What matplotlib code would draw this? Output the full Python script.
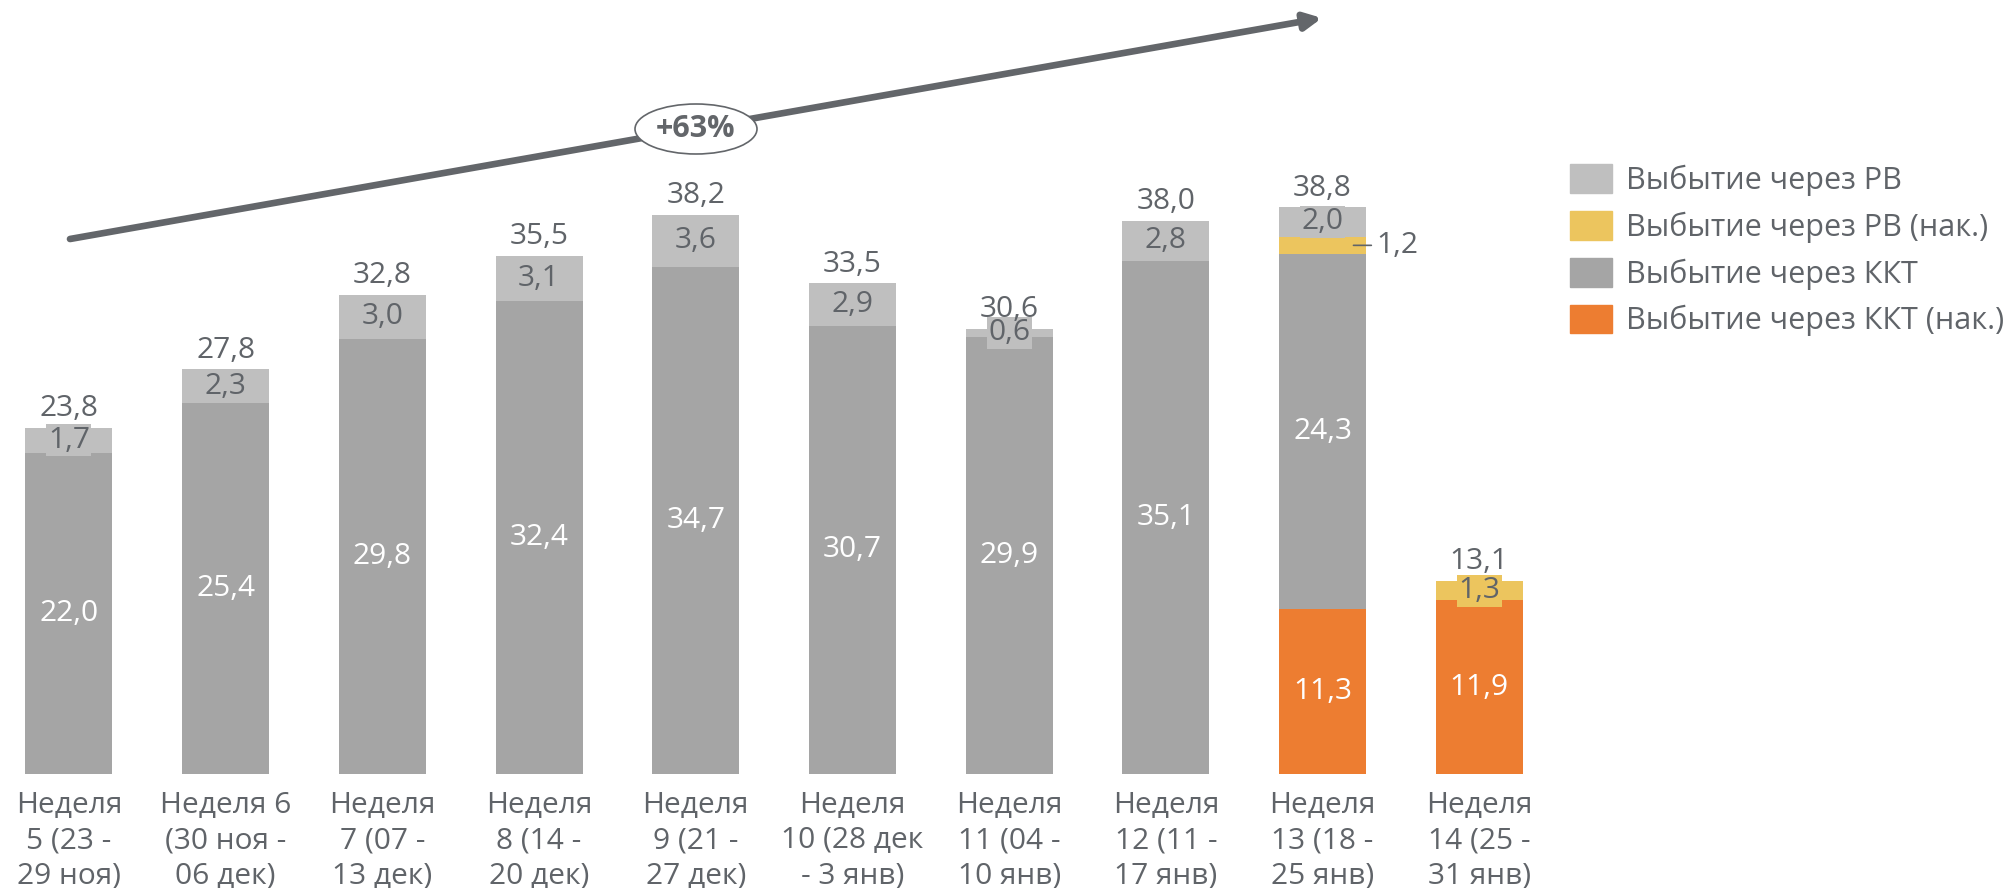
import matplotlib
matplotlib.use("Agg")
import matplotlib.pyplot as plt
from matplotlib.patches import Ellipse, Patch, FancyArrowPatch
import numpy as np

plt.rcParams['font.family'] = ['Open Sans', 'DejaVu Sans']

weeks = ["Неделя\n5 (23 -\n29 ноя)", "Неделя 6\n(30 ноя -\n06 дек)",
         "Неделя\n7 (07 -\n13 дек)", "Неделя\n8 (14 -\n20 дек)",
         "Неделя\n9 (21 -\n27 дек)", "Неделя\n10 (28 дек\n- 3 янв)",
         "Неделя\n11 (04 -\n10 янв)", "Неделя\n12 (11 -\n17 янв)",
         "Неделя\n13 (18 -\n25 янв)", "Неделя\n14 (25 -\n31 янв)"]
kkt_nak = [0, 0, 0, 0, 0, 0, 0, 0, 11.3, 11.9]
kkt = [22.0, 25.4, 29.8, 32.4, 34.7, 30.7, 29.9, 35.1, 24.3, 0]
rv_nak = [0, 0, 0, 0, 0, 0, 0, 0, 1.2, 1.3]
rv = [1.7, 2.3, 3.0, 3.1, 3.6, 2.9, 0.6, 2.8, 2.0, 0]
totals = [23.8, 27.8, 32.8, 35.5, 38.2, 33.5, 30.6, 38.0, 38.8, 13.1]
growth = "+63%"

names = ["Выбытие через РВ", "Выбытие через РВ (нак.)",
         "Выбытие через ККТ", "Выбытие через ККТ (нак.)"]
c_rv, c_rvn, c_kkt, c_kktn = "#bfbfbf", "#ecc55e", "#a5a5a5", "#ed7d31"
txt = "#606469"

def fmt(v):
    return f"{v:.1f}".replace(".", ",")

fig = plt.figure(figsize=(20.03, 8.88), dpi=100)
ax = fig.add_axes([0, 114 / 888, 1530 / 2003, 774 / 888])
ax.set_xlim(-0.44, 9.324)
ax.set_ylim(0, 53)
for s in ax.spines.values():
    s.set_visible(False)
ax.set_yticks([])

x = np.arange(len(weeks))
w = 0.555
series = [(kkt_nak, c_kktn, "white"), (kkt, c_kkt, "white"),
          (rv_nak, c_rvn, txt), (rv, c_rv, txt)]
bottom = np.zeros(len(weeks))
for vals, col, tc in series:
    vals = np.array(vals)
    ax.bar(x, vals, w, bottom=bottom, color=col, linewidth=0)
    for i, v in enumerate(vals):
        if v <= 0:
            continue
        yc = bottom[i] + v / 2
        if col == c_rvn and i == 8:
            # small segment: label outside with a leader line
            ax.annotate(fmt(v), xy=(i + w / 2 - 0.08, yc), xytext=(i + w / 2 + 0.065, yc),
                        ha="left", va="center", fontsize=21.5, color=txt,
                        arrowprops=dict(arrowstyle="-", color=txt, lw=1.2,
                                        shrinkA=1.5, shrinkB=0))
            continue
        bb = None
        if tc != "white":
            bb = dict(boxstyle="square,pad=0.05", fc=col, ec="none")
        ax.text(i, yc, fmt(v), ha="center", va="center", fontsize=21.5,
                color=tc, bbox=bb)
    bottom = bottom + vals

for i, t in enumerate(totals):
    ax.annotate(fmt(t), xy=(i, bottom[i]), xytext=(0, 8.5), textcoords="offset points",
                ha="center", va="baseline", fontsize=21.5, color=txt)

ax.set_xticks(x)
ax.set_xticklabels(weeks, fontsize=21.5, color=txt, linespacing=1.3)
ax.tick_params(axis="x", length=0, pad=12)

# trend arrow
arr = FancyArrowPatch((70 / 2003, 1 - 239 / 888), (1322 / 2003, 1 - 18 / 888),
                      transform=fig.transFigure, color="#63666a", lw=4.8,
                      arrowstyle="-|>,head_length=1.0,head_width=0.5",
                      mutation_scale=10, shrinkA=0, shrinkB=0, zorder=2)
fig.add_artist(arr)
ell = Ellipse((696 / 2003, 1 - 129 / 888), 122 / 2003, 50 / 888,
              transform=fig.transFigure, fc="white", ec="#63666a", lw=1.2, zorder=3)
fig.add_artist(ell)
fig.text(696 / 2003, 1 - 129 / 888, growth, ha="center", va="center",
         fontsize=22, fontweight="bold", color="#63666a", zorder=4)

handles = [Patch(color=c) for c in (c_rv, c_rvn, c_kkt, c_kktn)]
fig.legend(handles, names, loc="upper left", bbox_to_anchor=(1570 / 2003, 1 - 164 / 888),
           frameon=False, fontsize=22, labelcolor=txt, borderpad=0, borderaxespad=0,
           handlelength=1.37, handleheight=1.08, handletextpad=0.45, labelspacing=0.49)

fig.savefig("out.png", dpi=100)
